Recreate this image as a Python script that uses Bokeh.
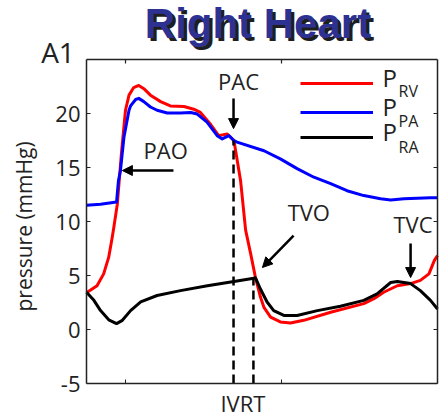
import math
from bokeh.plotting import figure
from bokeh.models import (Label, Arrow, NormalHead, FixedTicker,
                          Range1d, Legend, LegendItem)
from bokeh.embed import file_html
from bokeh.resources import INLINE

# ---------------- data (time in s, pressure in mmHg) ----------------
t_rv = [0.0, 0.027, 0.044, 0.057, 0.066, 0.070, 0.079, 0.090, 0.100, 0.109,
        0.121, 0.134, 0.147, 0.164, 0.190, 0.215, 0.250, 0.275, 0.292, 0.318,
        0.339, 0.361, 0.378, 0.395, 0.408, 0.421, 0.433, 0.446, 0.455, 0.472,
        0.497, 0.523, 0.557, 0.626, 0.711, 0.737, 0.762, 0.797, 0.831, 0.856,
        0.878, 0.892, 0.9]
p_rv = [3.4, 4.05, 5.15, 6.7, 8.55, 9.45, 11.6, 16.5, 20.3, 21.7,
        22.4, 22.6, 22.3, 21.7, 21.1, 20.7, 20.65, 20.4, 20.1, 19.0,
        17.95, 18.1, 17.5, 13.8, 9.2, 7.0, 4.85, 3.0, 2.05, 1.15,
        0.7, 0.6, 0.85, 1.6, 2.4, 2.85, 3.45, 4.05, 4.25, 4.55,
        5.15, 6.4, 6.85]

t_pa = [0.0, 0.036, 0.077, 0.082, 0.087, 0.096, 0.109, 0.113, 0.126, 0.134,
        0.147, 0.164, 0.181, 0.207, 0.241, 0.267, 0.284, 0.309, 0.335, 0.348,
        0.365, 0.378, 0.386, 0.455, 0.497, 0.540, 0.583, 0.626, 0.668, 0.711,
        0.754, 0.780, 0.814, 0.882, 0.9]
p_pa = [11.5, 11.6, 11.8, 13.8, 14.7, 17.8, 20.3, 20.7, 21.3, 21.4,
        21.1, 20.6, 20.3, 20.05, 20.05, 20.1, 19.95, 19.2, 17.95, 17.65,
        17.95, 17.5, 17.35, 16.55, 15.8, 14.9, 14.1, 13.5, 12.85, 12.4,
        12.1, 12.0, 12.1, 12.2, 12.2]

t_ra = [0.0, 0.019, 0.036, 0.057, 0.077, 0.092, 0.113, 0.139, 0.181, 0.241,
        0.310, 0.378, 0.429, 0.433, 0.446, 0.463, 0.480, 0.506, 0.540, 0.592,
        0.651, 0.711, 0.745, 0.780, 0.797, 0.831, 0.856, 0.882, 0.9]
p_ra = [3.45, 2.7, 1.75, 0.9, 0.55, 0.85, 1.75, 2.55, 3.15, 3.6,
        4.05, 4.45, 4.75, 4.8, 3.75, 2.55, 1.75, 1.3, 1.3, 1.75,
        2.15, 2.7, 3.3, 4.35, 4.45, 4.25, 3.6, 2.7, 1.9]

# valve events: pulmonary valve closure (PAC) and tricuspid valve opening (TVO)
event_t = [0.377, 0.428]
event_p = [17.5, 4.75]

# the axes box (data limits) and its ticks
box_x = (0.0, 0.9)
box_y = (-5, 25)
x_ticks = [0.1, 0.5]
y_ticks = [-5, 0, 5, 10, 15, 20]
y_tick_labels = ["-5", "0", "5", "10", "15", "20"]

series_names = ["RV", "PA", "RA"]
series_colors = ["#ff0000", "#0000ff", "#000000"]

FONT = "Open Sans"
INK = "#222222"

# The frame spans the whole canvas so that the title, tag and axis label can be
# drawn as annotations; the axes are fixed at the edges of the data box.
view_x = (-0.2205, 0.9128)
view_y = (-7.870, 30.463)
W, H = 442, 414
px_x = (view_x[1] - view_x[0]) / W      # data units per pixel
px_y = (view_y[1] - view_y[0]) / H
TICK = 4                                 # inward tick length, px

p = figure(width=W, height=H, output_backend="svg", toolbar_location=None,
           x_range=Range1d(*view_x), y_range=Range1d(*view_y),
           min_border_left=0, min_border_right=0, min_border_top=0,
           min_border_bottom=0)
p.background_fill_color = "white"
p.border_fill_color = "white"
p.outline_line_color = None
p.xgrid.visible = False
p.ygrid.visible = False


def style_axis(ax, ticks, loc, bounds, labels=None):
    ax.fixed_location = loc
    ax.bounds = bounds
    ax.ticker = FixedTicker(ticks=ticks)
    ax.major_tick_in = TICK
    ax.major_tick_out = 0
    ax.minor_tick_in = 0
    ax.minor_tick_out = 0
    ax.axis_line_color = INK
    ax.axis_line_width = 1.5
    ax.major_tick_line_color = INK
    ax.axis_label = None
    ax.major_label_text_font = FONT
    ax.major_label_text_font_size = "22px"
    ax.major_label_text_color = INK
    ax.major_label_standoff = 6
    if labels is None:
        ax.major_label_overrides = {t: "" for t in ticks}
    else:
        ax.major_label_overrides = dict(zip(ticks, labels))


style_axis(p.yaxis[0], y_ticks, box_x[0], box_y, y_tick_labels)
style_axis(p.xaxis[0], x_ticks, box_y[0], box_x)


def rule(x0, y0, x1, y1, width):
    """A plain line annotation (an arrow without heads)."""
    p.add_layout(Arrow(start=None, end=None, x_start=x0, y_start=y0,
                       x_end=x1, y_end=y1, line_color=INK, line_width=width))


# top and right edges of the box, with their inward ticks
rule(box_x[0], box_y[1], box_x[1], box_y[1], 1.5)
rule(box_x[1], box_y[0], box_x[1], box_y[1], 1.5)
for xt in x_ticks:
    rule(xt, box_y[1], xt, box_y[1] - TICK * px_y, 1.2)
for yt in y_ticks:
    rule(box_x[1], yt, box_x[1] - TICK * px_x, yt, 1.2)

# ---------------- curves ----------------
r_rv = p.line(t_rv, p_rv, line_color=series_colors[0], line_width=3, line_join="round")
r_pa = p.line(t_pa, p_pa, line_color=series_colors[1], line_width=3, line_join="round")
r_ra = p.line(t_ra, p_ra, line_color=series_colors[2], line_width=3, line_join="round")

# dashed event markers (IVRT)
p.segment(x0=event_t, y0=[box_y[0]] * len(event_t), x1=event_t, y1=event_p,
          line_color="black", line_width=2.5, line_dash="9 5")

# ---------------- legend: one single-entry legend per series ----------------
legend_bottoms = [321, 292, 267]   # screen px from the canvas bottom
for r, yb in zip((r_rv, r_pa, r_ra), legend_bottoms):
    p.add_layout(Legend(items=[LegendItem(label=" ", renderers=[r])],
                        location=(300, yb), orientation="vertical",
                        glyph_width=73, glyph_height=20, spacing=0, padding=0,
                        margin=0, label_standoff=0, label_width=10, label_height=20,
                        label_text_font_size="1px",
                        border_line_color=None, background_fill_alpha=0), "center")

p_label_y = [23.35, 20.67, 18.35]
sub_label_y = [22.05, 19.28, 16.92]
for name, yp, ys in zip(series_names, p_label_y, sub_label_y):
    p.add_layout(Label(x=0.759, y=yp, text="P", text_font=FONT, text_font_size="24px",
                       text_color=INK, text_baseline="middle"))
    p.add_layout(Label(x=0.800, y=ys, text=name, text_font=FONT, text_font_size="16px",
                       text_color=INK, text_baseline="middle"))

# ---------------- annotations ----------------
def note(text, x, y, size="22px", **kw):
    p.add_layout(Label(x=x, y=y, text=text, text_font=FONT, text_font_size=size,
                       text_color=INK, text_align="center",
                       text_baseline="middle", **kw))


def arrow(x0, y0, x1, y1):
    p.add_layout(Arrow(end=NormalHead(size=10, fill_color="black", line_color="black",
                                      line_width=1),
                       x_start=x0, y_start=y0, x_end=x1, y_end=y1,
                       line_color="black", line_width=2.5))


note("PAC", 0.390, 23.0)
arrow(0.377, 21.4, 0.377, 18.6)
note("PAO", 0.203, 16.62)
arrow(0.223, 14.72, 0.092, 14.72)
note("TVO", 0.570, 10.87)
arrow(0.531, 8.70, 0.451, 5.74)
note("TVC", 0.837, 9.80)
arrow(0.831, 7.96, 0.831, 4.81)
note("IVRT", 0.401, -6.80)
note("A1", -0.073, 25.7, size="28px")

p.add_layout(Label(x=-0.1615, y=9.54, text="pressure (mmHg)", angle=math.pi / 2,
                   text_font=FONT, text_font_size="21px", text_color=INK,
                   text_align="center", text_baseline="middle"))

# title with drop shadow
for dx, dy, col in ((3, -3, "#1e1e1e"), (0, 0, "#2d3192")):
    p.add_layout(Label(x=0.4397, y=28.35, x_offset=dx, y_offset=dy, text="Right Heart",
                       text_font="Liberation Sans", text_font_style="bold",
                       text_font_size="42px", text_color=col, text_align="center",
                       text_baseline="middle"))

open("out.html", "w").write(file_html(p, INLINE))
